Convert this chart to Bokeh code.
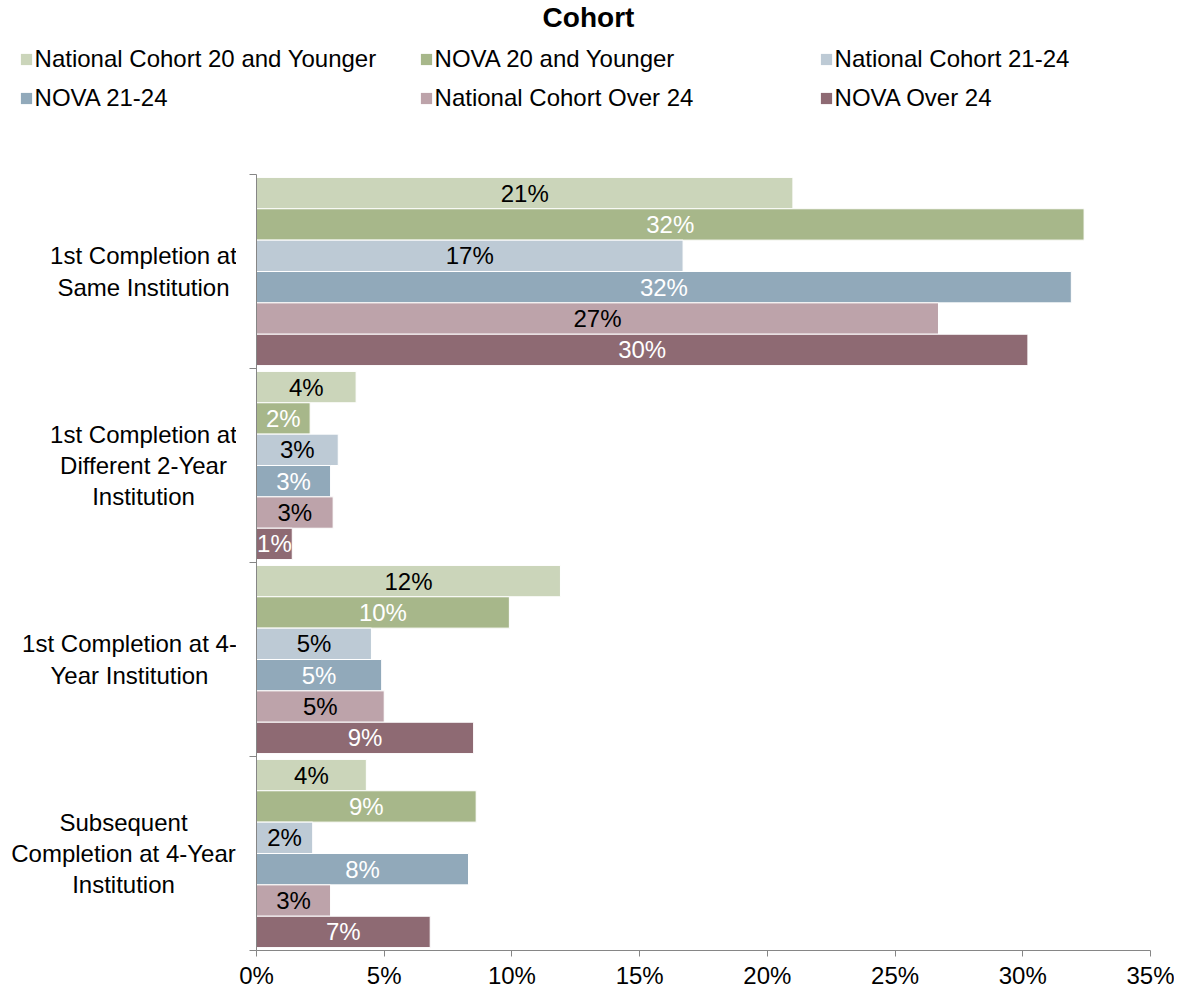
import math
from bokeh.plotting import figure
from bokeh.layouts import column, row
from bokeh.models import Range1d, FixedTicker, Legend, LegendItem, ColumnDataSource, Label
from bokeh.core.properties import value
from bokeh.embed import file_html
from bokeh.resources import INLINE

# ---- data ----
categories = [
    "1st Completion at\nSame Institution",
    "1st Completion at\nDifferent 2-Year\nInstitution",
    "1st Completion at 4-\nYear Institution",
    "Subsequent\nCompletion at 4-Year\nInstitution",
]
series_names = [
    "National Cohort 20 and Younger",
    "NOVA 20 and Younger",
    "National Cohort 21-24",
    "NOVA 21-24",
    "National Cohort Over 24",
    "NOVA Over 24",
]
nat_20 = [21.0, 3.9, 11.9, 4.3]
nova_20 = [32.4, 2.1, 9.9, 8.6]
nat_21_24 = [16.7, 3.2, 4.5, 2.2]
nova_21_24 = [31.9, 2.9, 4.9, 8.3]
nat_over24 = [26.7, 3.0, 5.0, 2.9]
nova_over24 = [30.2, 1.4, 8.5, 6.8]
series_values = [nat_20, nova_20, nat_21_24, nova_21_24, nat_over24, nova_over24]
series_colors = ["#CBD5BA", "#A7B78A", "#BDCAD5", "#91A9BA", "#BDA3AA", "#8E6A73"]
label_colors = ["black", "white", "black", "white", "black", "white"]
x_ticks = [0, 5, 10, 15, 20, 25, 30, 35]
x_tick_labels = ["0%", "5%", "10%", "15%", "20%", "25%", "30%", "35%"]
title_text = "Cohort"

# ---- styles / layout ----
FONT = "Liberation Sans"
AXIS_GREY = "#868686"
W = 1174
TOP_H = 170
MAIN_H = 822
LEFT_W = 236
BORDER_TOP = 4
BORDER_BOTTOM = 42
cat_label_centers_px = [143, 143, 129, 123]   # horizontal centre of each category label block

n_groups = len(categories)
n_series = len(series_values)
pad = 0.015
slot = (1 - 2 * pad) / n_series

# ---- header figure: title + legend ----
top = figure(width=W, height=TOP_H, x_range=Range1d(0, 1), y_range=Range1d(0, 1),
             output_backend="svg", toolbar_location=None, min_border=0)
top.frame_align = False
top.axis.visible = False
top.grid.visible = False
top.outline_line_color = None
top.add_layout(Label(x=588, y=TOP_H - 17, x_units="screen", y_units="screen", text=title_text,
                     text_align="center", text_baseline="middle", text_font=FONT,
                     text_font_size="28px", text_font_style="bold", text_color="black"))

legend_items = []
for name, vals, col in zip(series_names, series_values, series_colors):
    # hidden proxy renderer, only used to draw the legend swatch
    proxy = top.hbar(y=list(range(n_groups)), left=0, right=vals, height=0.1,
                     fill_color=col, line_color=None, visible=False)
    legend_items.append(LegendItem(label=name, renderers=[proxy]))

legend = Legend(
    items=legend_items, location=(18.6, 58), orientation="horizontal", ncols=3,
    glyph_width=14, glyph_height=14, label_standoff=2, label_width=373, label_height=20,
    spacing=11, padding=0, margin=0, border_line_color=None, background_fill_alpha=0,
    inactive_fill_alpha=0,
    label_text_font=FONT, label_text_font_size="24px", label_text_color="black",
)
top.add_layout(legend, "center")

# ---- main chart ----
y_range = Range1d(n_groups, 0)
p = figure(
    width=W - LEFT_W, height=MAIN_H,
    x_range=Range1d(0, 35), y_range=y_range,
    output_backend="svg", toolbar_location=None,
    min_border_left=256 - LEFT_W, min_border_right=24,
    min_border_top=BORDER_TOP, min_border_bottom=BORDER_BOTTOM,
)
p.frame_align = False
p.outline_line_color = None
p.xgrid.grid_line_color = None
p.ygrid.grid_line_color = None

for j, (vals, col, lcol) in enumerate(zip(series_values, series_colors, label_colors)):
    ys = [g + pad + (j + 0.5) * slot for g in range(n_groups)]
    src = ColumnDataSource(dict(
        y=ys, right=vals, mid=[v / 2 for v in vals],
        lab=[f"{math.floor(v + 0.5)}%" for v in vals],
    ))
    p.hbar(y="y", left=0, right="right", height=slot, source=src,
           fill_color=col, line_color="white", line_width=1)
    p.text(x="mid", y="y", text="lab", source=src, text_align="center", text_baseline="middle",
           text_font=value(FONT), text_font_size="24px", text_color=lcol)

# x axis
xa = p.xaxis[0]
xa.ticker = FixedTicker(ticks=x_ticks)
xa.major_label_overrides = {t: l for t, l in zip(x_ticks, x_tick_labels)}
xa.major_label_text_font = FONT
xa.major_label_text_font_size = "24px"
xa.major_label_text_color = "black"
xa.major_label_standoff = 5
xa.axis_line_color = AXIS_GREY
xa.major_tick_line_color = AXIS_GREY
xa.major_tick_out = 6
xa.major_tick_in = 0
xa.minor_tick_line_color = None

# y axis: only the category boundary ticks
ya = p.yaxis[0]
ya.ticker = FixedTicker(ticks=[], minor_ticks=list(range(n_groups + 1)))
ya.major_label_text_color = None
ya.axis_line_color = AXIS_GREY
ya.major_tick_line_color = None
ya.major_tick_out = 0
ya.major_tick_in = 0
ya.minor_tick_line_color = AXIS_GREY
ya.minor_tick_out = 7
ya.minor_tick_in = 0

# ---- left figure: category labels sharing the main y range ----
left = figure(width=LEFT_W, height=MAIN_H, x_range=Range1d(0, LEFT_W), y_range=y_range,
              output_backend="svg", toolbar_location=None,
              min_border_left=0, min_border_right=0,
              min_border_top=BORDER_TOP, min_border_bottom=BORDER_BOTTOM)
left.frame_align = False
left.axis.visible = False
left.grid.visible = False
left.outline_line_color = None
for g, (cat, cx) in enumerate(zip(categories, cat_label_centers_px)):
    left.add_layout(Label(x=cx, y=g + 0.5, text=cat, text_align="center", text_baseline="middle",
                          text_font=FONT, text_font_size="24px", text_color="black",
                          text_line_height=1.15))

layout = column(top, row(left, p, spacing=0), spacing=0)
open("out.html", "w").write(file_html(layout, INLINE))
